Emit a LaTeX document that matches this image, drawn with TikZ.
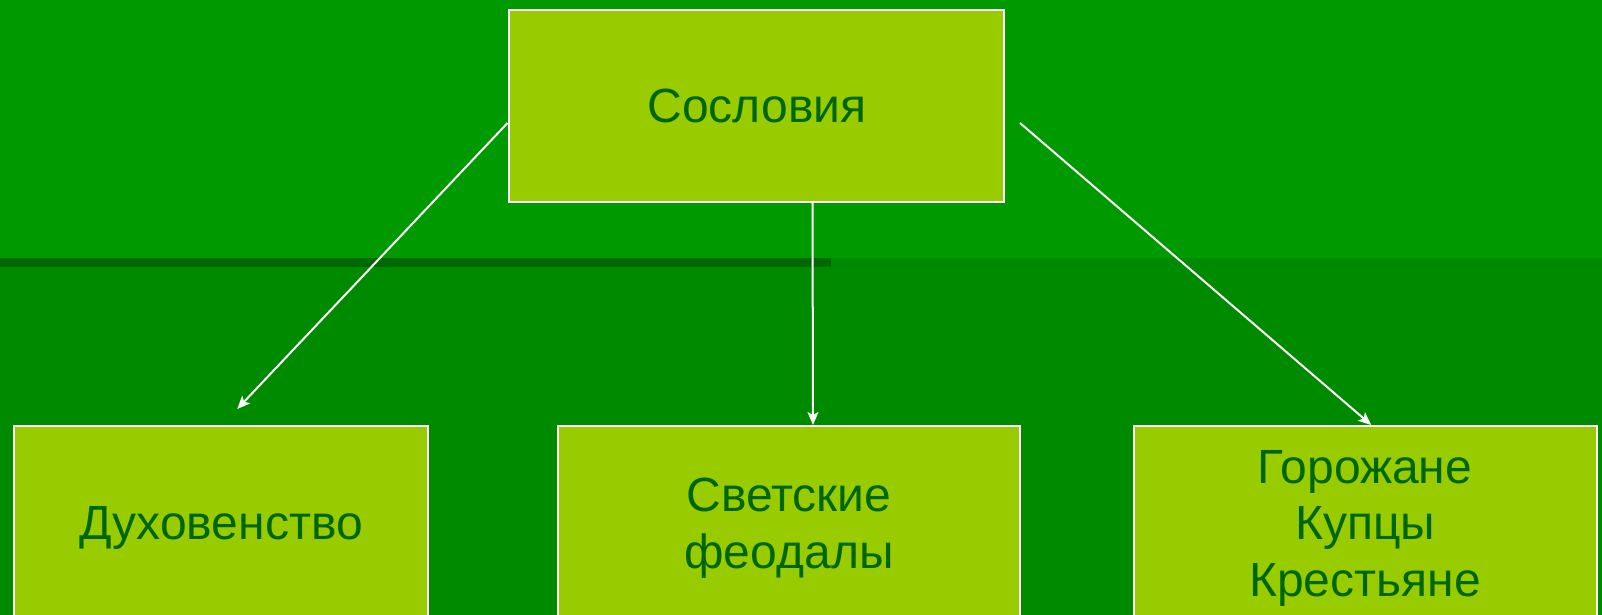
\documentclass[tikz,border=0pt]{standalone}
\usepackage{fontspec}
\setmainfont{Liberation Sans}
\usetikzlibrary{arrows.meta,calc}
\definecolor{bgtop}{RGB}{0,153,0}
\definecolor{bgbot}{RGB}{0,138,0}
\definecolor{bandc}{RGB}{0,104,0}
\definecolor{boxfill}{RGB}{153,204,0}
\definecolor{txtgreen}{RGB}{0,102,0}
\begin{document}
\begin{tikzpicture}[x=1pt,y=-1pt,
  box/.style={draw=white, line width=2pt, fill=boxfill, inner sep=0pt, outer sep=0pt, anchor=north west},
  lbl/.style={text=txtgreen, font=\fontsize{48}{57}\selectfont, anchor=base, inner sep=0pt},
  conn/.style={draw=white, line width=2pt, -{Stealth[length=13pt,width=11pt,inset=3pt]}}]
\useasboundingbox (0,0) rectangle (1602,615);
\clip (0,0) rectangle (1602,615);
\fill[bgtop] (0,0) rectangle (1602,258);
\fill[bgbot] (0,258) rectangle (1602,615);
\fill[bandc] (0,258) rectangle (831,267);

\node[box, minimum width=495pt, minimum height=191pt] (top) at (509,10.5) {};
\node[box, minimum width=414.5pt, minimum height=220pt] (left) at (13.5,426) {};
\node[box, minimum width=462pt, minimum height=220pt] (mid) at (558,426) {};
\node[box, minimum width=463.5pt, minimum height=220pt] (right) at (1133.5,426) {};

\node[lbl] (ttop) at (757,123) {Сословия};
\node[lbl] (tleft) at (221,539) {Духовенство};
\node[lbl] (tmid1) at (789,511) {Светские};
\node[lbl] (tmid2) at (789,568) {феодалы};
\node[lbl] (tr1) at (1365,483) {Горожане};
\node[lbl] (tr2) at (1365,539) {Купцы};
\node[lbl] (tr3) at (1365,596) {Крестьяне};

\draw[conn] ($(top.west)+(-1.5,17)$) -- ($(left.north)+(16.5,-17)$);
\draw[conn] ($(top.south)+(56,0)$) -- ($(mid.north)+(24,-1)$);
\draw[conn] ($(top.east)+(16,17)$) -- ($(right.north)+(6,-1)$);
\end{tikzpicture}
\end{document}
